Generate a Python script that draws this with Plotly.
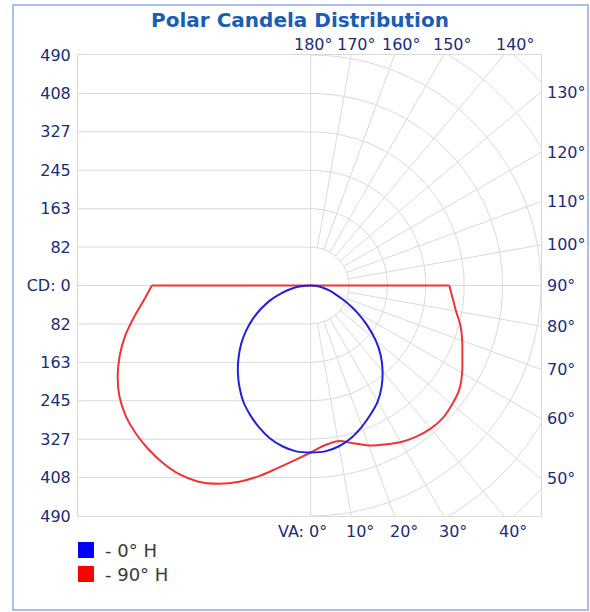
import numpy as np
import plotly.graph_objects as go

# ---------------- data ----------------
va_deg = [0, 5, 10, 15, 20, 25, 30, 35, 40, 45, 50, 55, 60, 65, 70, 75, 80, 85, 90]
# 0° H plane (blue): right half = 0° H, left half = 180° H
cd_0h_right = [355, 354, 347, 335, 319, 302, 285, 263, 238, 211, 180, 146, 114, 84, 58, 41, 27, 13, 0]
cd_0h_left = [355, 354, 347, 336, 321, 304, 286, 264, 241, 217, 193, 168, 142, 116, 91, 66, 43, 21, 0]
# 90° H plane (red): right half = 90° H, left half = 270° H
cd_90h_right = [355, 341, 336, 347, 362, 373, 384, 392, 397, 398, 393, 386, 372, 356, 343, 330, 314, 303, 295]
cd_90h_left = [355, 372, 393, 419, 444, 465, 481, 489, 491, 490, 487, 481, 470, 453, 432, 408, 381, 356, 338]

cd_max = 490
cd_tick_labels = ["490", "408", "327", "245", "163", "82", "CD: 0", "82", "163", "245", "327", "408", "490"]
va_labels_bottom = [0, 10, 20, 30, 40]
va_labels_right = [50, 60, 70, 80, 90, 100, 110, 120, 130]
va_labels_top = [140, 150, 160, 170, 180]
series_names = ["- 0° H", "- 90° H"]
series_colors = ["#2020e0", "#ee3535"]
legend_colors = ["#0000ff", "#ff0000"]

# ---------------- layout geometry ----------------
W, H = 590, 612
L, R, T, B = 78, 541, 55, 516          # plot area in pixels
x_range = [-495, 490]
y_range = [-cd_max, cd_max]
px_per_cd = (B - T) / (y_range[1] - y_range[0])
step = cd_max / 6

GRID = "#dadada"
NAVY = "#1b2c7c"
FONT = "DejaVu Sans"


def px_to_paper_x(px):
    return (px - L) / (R - L)


def px_to_paper_y(py):
    return (B - py) / (B - T)


def polar_xy(va, cd, side):
    a = np.radians(np.asarray(va, dtype=float))
    cd = np.asarray(cd, dtype=float)
    return side * cd * np.sin(a), -cd * np.cos(a)


fig = go.Figure()


def grid_line(xs, ys):
    fig.add_trace(go.Scatter(x=list(xs), y=list(ys), mode="lines",
                             line=dict(color=GRID, width=1),
                             hoverinfo="skip", showlegend=False))


# horizontal grid lines in the left half
for k in range(-5, 6):
    if k == 0:
        grid_line([x_range[0], x_range[1]], [0, 0])
    else:
        grid_line([x_range[0], 0], [k * step, k * step])
# vertical line (VA 0 / 180)
grid_line([0, 0], y_range)
# rings on the right half
t = np.linspace(0, 180, 361)
for k in range(1, 9):
    xs, ys = polar_xy(t, np.full_like(t, k * step), 1)
    grid_line(xs, ys)
# radial lines every 10° starting at the first ring
for a in range(10, 180, 10):
    xs, ys = polar_xy([a, a], [step, 900], 1)
    grid_line(xs, ys)

# ---------------- candela curves ----------------
# red (90° H): left side from VA 90 to 0, then right side 0 to 90
xl, yl = polar_xy(va_deg[::-1], cd_90h_left[::-1], -1)
xr, yr = polar_xy(va_deg[1:], cd_90h_right[1:], 1)
fig.add_trace(go.Scatter(x=np.concatenate([xl, xr]), y=np.concatenate([yl, yr]),
                         mode="lines", line=dict(color=series_colors[1], width=2, shape="spline", smoothing=1.0),
                         hoverinfo="skip", showlegend=False))
# red top segment through the origin (zero candela above 90°)
fig.add_trace(go.Scatter(x=[xl[0], 0, xr[-1]], y=[yl[0], 0, yr[-1]], mode="lines",
                         line=dict(color=series_colors[1], width=2),
                         hoverinfo="skip", showlegend=False))
# blue (0° H)
xr, yr = polar_xy(va_deg[::-1], cd_0h_right[::-1], 1)
xl, yl = polar_xy(va_deg[1:], cd_0h_left[1:], -1)
fig.add_trace(go.Scatter(x=np.concatenate([xr, xl]), y=np.concatenate([yr, yl]),
                         mode="lines", line=dict(color=series_colors[0], width=2, shape="spline", smoothing=1.0),
                         hoverinfo="skip", showlegend=False))

# ---------------- angle labels ----------------
ann = []
lab_font = dict(family=FONT, size=16, color=NAVY)
py_bot, py_top = 531, 45
y_top = y_range[1] + (T - py_top) / px_per_cd
for a in va_labels_bottom:
    xx = cd_max * np.tan(np.radians(a))   # ray meets the bottom edge
    if a == 0:
        ann.append(dict(xref="x", yref="paper", x=0, y=px_to_paper_y(py_bot), text="VA: 0°",
                        xanchor="right", yanchor="middle", xshift=18, showarrow=False, font=lab_font))
    else:
        ann.append(dict(xref="x", yref="paper", x=xx, y=px_to_paper_y(py_bot), text=f"{a}°",
                        xanchor="center", yanchor="middle", xshift=9, showarrow=False, font=lab_font))
for a in va_labels_right:
    yy = -x_range[1] / np.tan(np.radians(a)) if a != 90 else 0
    ann.append(dict(xref="paper", yref="y", x=1, y=yy, text=f"{a}°", xanchor="left",
                    yanchor="middle", xshift=4, showarrow=False, font=lab_font))
for a in va_labels_top:
    xx = y_top * np.tan(np.radians(180 - a))
    ann.append(dict(xref="x", yref="paper", x=xx, y=px_to_paper_y(py_top), text=f"{a}°",
                    xanchor="center", yanchor="middle", xshift=3, showarrow=False, font=lab_font))

# ---------------- legend (manual squares) ----------------
shapes = []
for i, (name, col) in enumerate(zip(series_names, legend_colors)):
    top = 542 + i * 24
    shapes.append(dict(type="rect", xref="paper", yref="paper",
                       x0=px_to_paper_x(78), x1=px_to_paper_x(94),
                       y0=px_to_paper_y(top + 16), y1=px_to_paper_y(top),
                       fillcolor=col, line=dict(width=0)))
    ann.append(dict(xref="paper", yref="paper", x=px_to_paper_x(103), y=px_to_paper_y(top + 8),
                    text=name, xanchor="left", yanchor="middle", showarrow=False,
                    font=dict(family=FONT, size=18, color="#3a3a3a")))

# outer light-blue frame
shapes.append(dict(type="rect", xref="paper", yref="paper",
                   x0=px_to_paper_x(13), x1=px_to_paper_x(588),
                   y0=px_to_paper_y(610), y1=px_to_paper_y(5),
                   line=dict(color="#a8bdf0", width=2), fillcolor="rgba(0,0,0,0)"))

tickvals = [k * step for k in range(6, -7, -1)]

fig.update_layout(
    width=W, height=H,
    margin=dict(l=L, r=W - R, t=T, b=H - B, autoexpand=False),
    paper_bgcolor="white", plot_bgcolor="white",
    title=dict(text="<b>Polar Candela Distribution</b>", x=300 / W, xanchor="center",
               y=1 - 20 / H, yanchor="middle", yref="container", xref="container",
               font=dict(family=FONT, size=20, color="#1a5db5")),
    xaxis=dict(range=x_range, showgrid=False, zeroline=False, showticklabels=False,
               showline=True, mirror=True, linecolor=GRID, linewidth=1, fixedrange=True),
    yaxis=dict(range=y_range, showgrid=False, zeroline=False, tickvals=tickvals,
               ticktext=cd_tick_labels, tickfont=lab_font, ticks="outside", ticklen=3,
               tickcolor="rgba(0,0,0,0)", showline=True, mirror=True, linecolor=GRID,
               linewidth=1, fixedrange=True),
    shapes=shapes, annotations=ann, showlegend=False,
)

fig.write_html("out.html", config={"displayModeBar": False},
               post_script="document.body.style.margin='0px';document.body.style.overflow='hidden';")
